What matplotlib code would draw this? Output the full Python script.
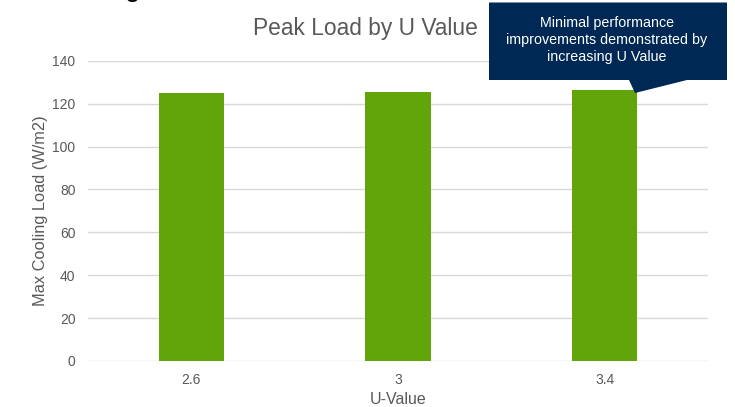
import matplotlib
matplotlib.use("Agg")
import matplotlib.pyplot as plt
from matplotlib.patches import Polygon

plt.rcParams['font.family'] = ['Liberation Sans', 'DejaVu Sans']

categories = ["2.6", "3", "3.4"]
values = [124.8, 125.4, 126.2]
yticks = [0, 20, 40, 60, 80, 100, 120, 140]
title = "Peak Load by U Value"
xlabel = "U-Value"
ylabel = "Max Cooling Load (W/m2)"
callout = "Minimal performance\nimprovements demonstrated by\nincreasing U Value"

W, H = 735, 407
fig = plt.figure(figsize=(W / 100, H / 100), dpi=100)
ax = fig.add_axes([88 / W, 1 - 361 / H, (708 - 88) / W, (361 - 60.7) / H])

x = range(len(categories))
ax.bar(x, values, width=0.315, color="#62A50B", zorder=3)
ax.set_xlim(-0.5, len(categories) - 0.5)
ax.set_ylim(0, 140)
ax.set_yticks(yticks)
ax.set_xticks(list(x))
ax.set_xticklabels(categories)
ax.grid(axis="y", color="#D9D9D9", linewidth=1, zorder=0)
for s in ax.spines.values():
    s.set_visible(False)
ax.tick_params(axis="both", length=0, colors="#595959", labelsize=10)
ax.tick_params(axis="x", pad=9)
ax.tick_params(axis="y", pad=9)
ax.set_xlabel(xlabel, fontsize=11.5, color="#595959", labelpad=3)
ax.set_ylabel(ylabel, fontsize=11.8, color="#595959", labelpad=3)

fig.text(365 / W, 1 - 29 / H, title, fontsize=16.4, color="#595959",
         ha="center", va="center")

# cut-off fragment of a heading above the chart
fig.text(133 / W, 1 + 4.5 / H, "g", fontsize=20, color="black",
         ha="center", va="baseline")

# callout box
pts = [(489, 2.5), (727, 2.5), (727, 80), (687, 80), (635, 93), (629, 80), (489, 80)]
poly = Polygon([(px / W, 1 - py / H) for px, py in pts], closed=True,
               transform=fig.transFigure, facecolor="#002855", edgecolor="none",
               zorder=10)
fig.patches.append(poly)
fig.text(607 / W, 1 - 40 / H, callout, fontsize=10.25, color="white",
         ha="center", va="center", linespacing=1.25, zorder=11)

fig.savefig("out.png", dpi=100)
